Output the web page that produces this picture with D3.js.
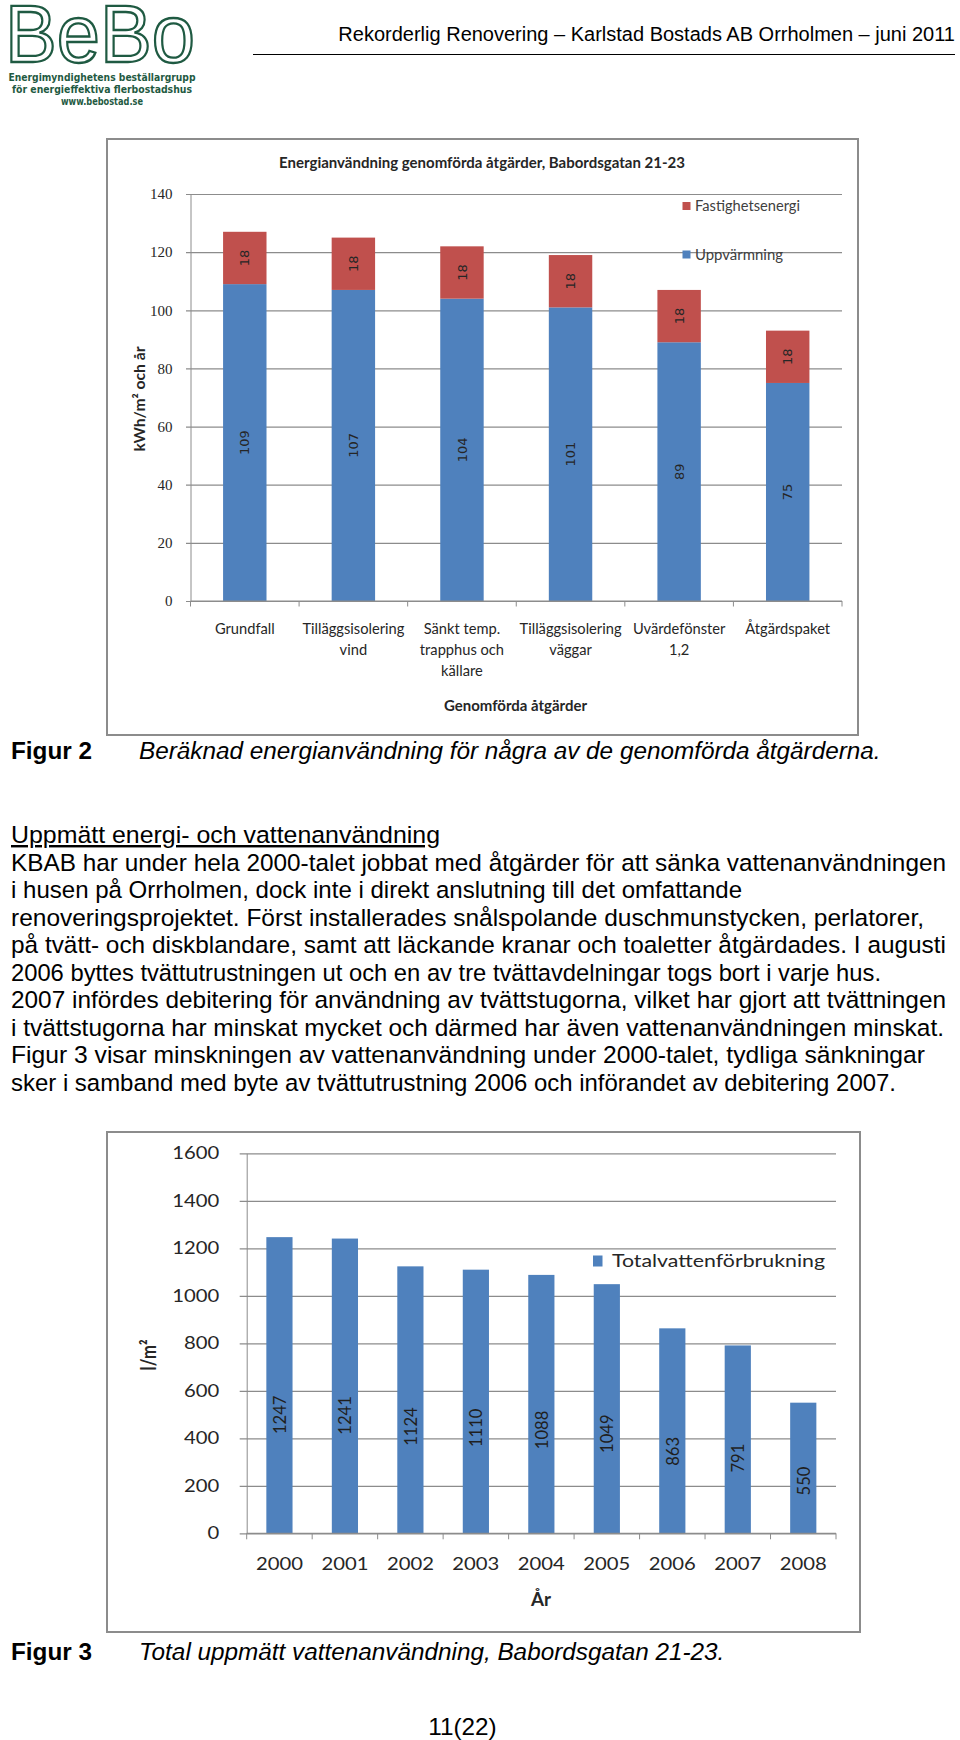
<!DOCTYPE html>
<html><head><meta charset="utf-8">
<script src="https://cdn.jsdelivr.net/npm/d3@7"></script>
<style>body{margin:0;background:#fff}svg{display:block}</style>
</head><body>
<svg id="page" width="960" height="1740"></svg>
<script>
// ---------- data ----------
const measures = ["Grundfall", "Tilläggsisolering\nvind", "Sänkt temp.\ntrapphus och\nkällare", "Tilläggsisolering\nväggar", "Uvärdefönster\n1,2", "Åtgärdspaket"];
const heating = [109, 107, 104, 101, 89, 75];
const propertyEnergy = [18, 18, 18, 18, 18, 18];
const seriesNames = ["Uppvärmning", "Fastighetsenergi"];
const energyTicks = [0, 20, 40, 60, 80, 100, 120, 140];

const years = ["2000", "2001", "2002", "2003", "2004", "2005", "2006", "2007", "2008"];
const water = [1247, 1241, 1124, 1110, 1088, 1049, 863, 791, 550];
const waterTicks = [0, 200, 400, 600, 800, 1000, 1200, 1400, 1600];

const headerText = "Rekorderlig Renovering – Karlstad Bostads AB Orrholmen – juni 2011";
const logoLines = ["Energimyndighetens beställargrupp", "för energieffektiva flerbostadshus", "www.bebostad.se"];
const chart1Title = "Energianvändning genomförda åtgärder, Babordsgatan 21-23";
const chart1YTitle = "kWh/m² och år";
const chart1XTitle = "Genomförda åtgärder";
const chart2Legend = "Totalvattenförbrukning";
const chart2YTitle = "l/m²";
const chart2XTitle = "År";
const caption2 = ["Figur 2", "Beräknad energianvändning för några av de genomförda åtgärderna."];
const caption3 = ["Figur 3", "Total uppmätt vattenanvändning, Babordsgatan 21-23."];
const heading = "Uppmätt energi- och vattenanvändning";
const bodyLines = [
  "KBAB har under hela 2000-talet jobbat med åtgärder för att sänka vattenanvändningen",
  "i husen på Orrholmen, dock inte i direkt anslutning till det omfattande",
  "renoveringsprojektet. Först installerades snålspolande duschmunstycken, perlatorer,",
  "på tvätt- och diskblandare, samt att läckande kranar och toaletter åtgärdades. I augusti",
  "2006 byttes tvättutrustningen ut och en av tre tvättavdelningar togs bort i varje hus.",
  "2007 infördes debitering för användning av tvättstugorna, vilket har gjort att tvättningen",
  "i tvättstugorna har minskat mycket och därmed har även vattenanvändningen minskat.",
  "Figur 3 visar minskningen av vattenanvändning under 2000-talet, tydliga sänkningar",
  "sker i samband med byte av tvättutrustning 2006 och införandet av debitering 2007."
];
const pageNo = "11(22)";

// ---------- helpers ----------
const svg = d3.select("#page");
const UI = "Lato, 'Open Sans', sans-serif";
const DOC = "'Liberation Sans', Arial, Helvetica, sans-serif";
const BLUE = "#4f81bd", RED = "#c0504d", GRID = "#8c8c8c", TXT = "#262626";
function fit(sel, w) { sel.attr("textLength", w).attr("lengthAdjust", "spacingAndGlyphs"); }
function stretch(sel, r) {
  sel.each(function () {
    const L = this.getComputedTextLength();
    d3.select(this).attr("textLength", L * r).attr("lengthAdjust", "spacingAndGlyphs");
  });
}

// ---------- header ----------
const logo = svg.append("g");
logo.append("text").attr("x", 5).attr("y", 62).text("BeBo")
  .attr("font-family", DOC).attr("font-size", 81)
  .attr("fill", "#fff").attr("stroke", "#1f5a42").attr("stroke-width", 2.3)
  .call(fit, 190);
const logoY = [80.5, 93, 105];
const logoW = [187, 180, 82];
logo.selectAll("text.sub").data(logoLines).join("text").attr("class", "sub")
  .attr("x", 102).attr("y", (d, i) => logoY[i]).attr("text-anchor", "middle")
  .attr("font-family", "'DejaVu Sans', sans-serif").attr("font-weight", "bold").attr("font-size", 10)
  .attr("fill", "#1f5a42").text(d => d)
  .each(function (d, i) { fit(d3.select(this), logoW[i]); });

svg.append("text").attr("x", 955).attr("y", 40.5).attr("text-anchor", "end")
  .attr("font-family", DOC).attr("font-size", 20).attr("fill", "#000").text(headerText);
svg.append("line").attr("x1", 253).attr("x2", 955).attr("y1", 54.5).attr("y2", 54.5)
  .attr("stroke", "#000").attr("stroke-width", 1);

// ---------- chart 1 ----------
const c1 = svg.append("g");
c1.append("rect").attr("x", 107).attr("y", 139).attr("width", 751).attr("height", 596)
  .attr("fill", "#fff").attr("stroke", GRID).attr("stroke-width", 2);

const x1 = d3.scaleBand().domain(measures).range([190.5, 842]).paddingInner(0.6).paddingOuter(0.3);
const y1 = d3.scaleLinear().domain([0, 140]).range([601, 194]);

const gy1 = c1.append("g").attr("transform", "translate(190.5,0)")
  .call(d3.axisLeft(y1).tickValues(energyTicks).tickFormat(d3.format("d")).tickSizeOuter(0).tickPadding(12));
gy1.select(".domain").attr("stroke", GRID);
gy1.selectAll(".tick line").attr("x1", -4.5).attr("x2", 842 - 190.5).attr("stroke", GRID).attr("stroke-width", 1.2);
gy1.selectAll(".tick text").attr("font-family", "'Liberation Serif', serif").attr("font-size", 15).attr("fill", TXT);

const rows = measures.map((m, i) => ({ m, "Uppvärmning": heating[i], "Fastighetsenergi": propertyEnergy[i] }));
const stacked = d3.stack().keys(seriesNames)(rows);
const col = { "Uppvärmning": BLUE, "Fastighetsenergi": RED };
const layer = c1.selectAll("g.layer").data(stacked).join("g").attr("class", "layer").attr("fill", d => col[d.key]);
layer.selectAll("rect").data(d => d).join("rect")
  .attr("x", d => x1(d.data.m)).attr("width", x1.bandwidth())
  .attr("y", d => y1(d[1])).attr("height", d => y1(d[0]) - y1(d[1]));
layer.selectAll("text").data(d => d.map(s => ({ s, key: d.key }))).join("text")
  .attr("transform", d => `translate(${x1(d.s.data.m) + x1.bandwidth() / 2},${y1((d.s[0] + d.s[1]) / 2)}) rotate(-90)`)
  .attr("text-anchor", "middle").attr("dy", "0.36em")
  .attr("font-family", "'DejaVu Sans', sans-serif").attr("font-size", 13).attr("fill", TXT)
  .text(d => d.s.data[d.key]);

// x axis
const gx1 = c1.append("g").attr("transform", "translate(0,601)");
gx1.append("line").attr("x1", 190.5).attr("x2", 842).attr("stroke", GRID).attr("stroke-width", 1.2);
const bnd1 = measures.map(m => x1(m) - x1.step() * 0.3).concat([842]);
gx1.selectAll("line.tk").data(bnd1).join("line").attr("class", "tk")
  .attr("x1", d => d).attr("x2", d => d).attr("y1", 0).attr("y2", 5.5).attr("stroke", GRID);
const xl1 = gx1.selectAll("text.cat").data(measures).join("text").attr("class", "cat")
  .attr("font-family", UI).attr("font-size", 15).attr("fill", TXT).attr("text-anchor", "middle");
xl1.selectAll("tspan").data(d => d.split("\n").map((t, i) => ({ t, i, m: d }))).join("tspan")
  .attr("x", d => x1(d.m) + x1.bandwidth() / 2).attr("y", d => 33 + d.i * 21).text(d => d.t);
{
  let ref = null;
  xl1.selectAll("tspan").each(function (d) { if (d.t === "Tilläggsisolering") ref = this; });
  const r = 102 / ref.getComputedTextLength();
  stretch(xl1.selectAll("tspan"), r);
}

c1.append("text").attr("x", 482).attr("y", 168).attr("text-anchor", "middle")
  .attr("font-family", UI).attr("font-weight", "bold").attr("font-size", 14.5).attr("fill", TXT)
  .text(chart1Title).call(fit, 406);
c1.append("text").attr("transform", "translate(139,399) rotate(-90)").attr("text-anchor", "middle").attr("dy", "0.36em")
  .attr("font-family", UI).attr("font-weight", "bold").attr("font-size", 15.5).attr("fill", TXT)
  .text(chart1YTitle).call(fit, 105);
c1.append("text").attr("x", 515.5).attr("y", 705).attr("text-anchor", "middle").attr("dy", "0.36em")
  .attr("font-family", UI).attr("font-weight", "bold").attr("font-size", 15.5).attr("fill", TXT)
  .text(chart1XTitle).call(fit, 143);

// legend 1
const leg1 = [...seriesNames].reverse();
const legY1 = [206, 254.5], legW1 = [105, 88];
const lg1 = c1.selectAll("g.leg").data(leg1).join("g").attr("class", "leg")
  .attr("transform", (d, i) => `translate(682.5,${legY1[i]})`);
lg1.append("rect").attr("x", 0).attr("y", -4).attr("width", 8).attr("height", 8).attr("fill", d => col[d]);
lg1.append("text").attr("x", 12.5).attr("dy", "0.36em")
  .attr("font-family", UI).attr("font-size", 14.5).attr("fill", "#404040").text(d => d)
  .each(function (d, i) { fit(d3.select(this), legW1[i]); });

// caption 2
svg.append("text").attr("x", 11).attr("y", 759).attr("font-family", DOC).attr("font-weight", "bold")
  .attr("font-size", 24.3).attr("fill", "#000").text(caption2[0]);
svg.append("text").attr("x", 139).attr("y", 759).attr("font-family", DOC).attr("font-style", "italic")
  .attr("font-size", 24.3).attr("fill", "#000").text(caption2[1]);

// ---------- body ----------
const headW = 429;
const bodyW = [935, 731, 913, 935, 870, 935, 933, 914, 885];
svg.append("text").attr("x", 11).attr("y", 843).attr("font-family", DOC).attr("font-size", 24.3)
  .attr("fill", "#000").attr("text-decoration", "underline").text(heading).call(fit, headW);
svg.selectAll("text.body").data(bodyLines).join("text").attr("class", "body")
  .attr("x", 11).attr("y", (d, i) => 870.5 + i * 27.5)
  .attr("font-family", DOC).attr("font-size", 24.3).attr("fill", "#000").text(d => d)
  .each(function (d, i) { fit(d3.select(this), bodyW[i]); });

// ---------- chart 2 ----------
const c2 = svg.append("g");
c2.append("rect").attr("x", 107).attr("y", 1132).attr("width", 753).attr("height", 500)
  .attr("fill", "#fff").attr("stroke", GRID).attr("stroke-width", 2);

const x2 = d3.scaleBand().domain(years).range([246.7, 836]).paddingInner(0.6).paddingOuter(0.3);
const y2 = d3.scaleLinear().domain([0, 1600]).range([1533.3, 1153.3]);

const gy2 = c2.append("g").attr("transform", "translate(246.7,0)")
  .call(d3.axisLeft(y2).tickValues(waterTicks).tickFormat(d3.format("d")).tickSizeOuter(0).tickPadding(21.5));
gy2.select(".domain").attr("stroke", GRID);
gy2.selectAll(".tick line").attr("x1", -7).attr("x2", 836 - 246.7).attr("stroke", GRID).attr("stroke-width", 1.2);
gy2.selectAll(".tick text").attr("font-family", UI).attr("font-size", 17.5).attr("fill", TXT);
{
  let ref = null;
  gy2.selectAll(".tick text").each(function (d) { if (d === 1600) ref = this; });
  stretch(gy2.selectAll(".tick text"), 47 / ref.getComputedTextLength());
}

c2.selectAll("rect.bar").data(water).join("rect").attr("class", "bar")
  .attr("x", (d, i) => x2(years[i])).attr("width", x2.bandwidth())
  .attr("y", d => y2(d)).attr("height", d => y2(0) - y2(d)).attr("fill", BLUE);
const bl2 = c2.selectAll("text.val").data(water).join("text").attr("class", "val")
  .attr("transform", (d, i) => `translate(${x2(years[i]) + x2.bandwidth() / 2},${y2(d * 0.4)}) rotate(-90)`)
  .attr("text-anchor", "middle").attr("dy", "0.36em")
  .attr("font-family", UI).attr("font-size", 18).attr("fill", "#1f1f1f").text(d => d);
{
  const r = 38.5 / bl2.filter(d => d === 1247).node().getComputedTextLength();
  stretch(bl2, r);
}

const gx2 = c2.append("g").attr("transform", "translate(0,1533.3)");
gx2.append("line").attr("x1", 246.7).attr("x2", 836).attr("stroke", GRID).attr("stroke-width", 1.2);
const bnd2 = years.map(yv => x2(yv) - x2.step() * 0.3).concat([836]);
gx2.selectAll("line.tk").data(bnd2).join("line").attr("class", "tk")
  .attr("x1", d => d).attr("x2", d => d).attr("y1", 0).attr("y2", 6).attr("stroke", GRID);
const yl2 = gx2.selectAll("text.yr").data(years).join("text").attr("class", "yr")
  .attr("x", d => x2(d) + x2.bandwidth() / 2).attr("y", 30).attr("dy", "0.36em").attr("text-anchor", "middle")
  .attr("font-family", UI).attr("font-size", 17.5).attr("fill", TXT).text(d => d);
stretch(yl2, 47 / yl2.node().getComputedTextLength());

c2.append("text").attr("transform", "translate(149,1355) rotate(-90)").attr("text-anchor", "middle").attr("dy", "0.36em")
  .attr("font-family", UI).attr("font-weight", "bold").attr("font-size", 20).attr("fill", TXT)
  .text(chart2YTitle).call(fit, 31);
c2.append("text").attr("x", 541).attr("y", 1600).attr("text-anchor", "middle").attr("dy", "0.36em")
  .attr("font-family", UI).attr("font-weight", "bold").attr("font-size", 18).attr("fill", TXT)
  .text(chart2XTitle).call(fit, 20);

const lg2 = c2.append("g").attr("transform", "translate(593,1261)");
lg2.append("rect").attr("x", 0).attr("y", -5.5).attr("width", 9.5).attr("height", 11).attr("fill", BLUE);
lg2.append("text").attr("x", 19).attr("dy", "0.36em").attr("font-family", UI).attr("font-size", 18)
  .attr("fill", TXT).text(chart2Legend).call(fit, 213);

// caption 3
svg.append("text").attr("x", 11).attr("y", 1660).attr("font-family", DOC).attr("font-weight", "bold")
  .attr("font-size", 24.3).attr("fill", "#000").text(caption3[0]);
svg.append("text").attr("x", 139).attr("y", 1660).attr("font-family", DOC).attr("font-style", "italic")
  .attr("font-size", 24.3).attr("fill", "#000").text(caption3[1]);

svg.append("text").attr("x", 462.5).attr("y", 1734.5).attr("text-anchor", "middle").attr("font-family", DOC)
  .attr("font-size", 24.3).attr("fill", "#000").text(pageNo);
</script>
</body></html>
